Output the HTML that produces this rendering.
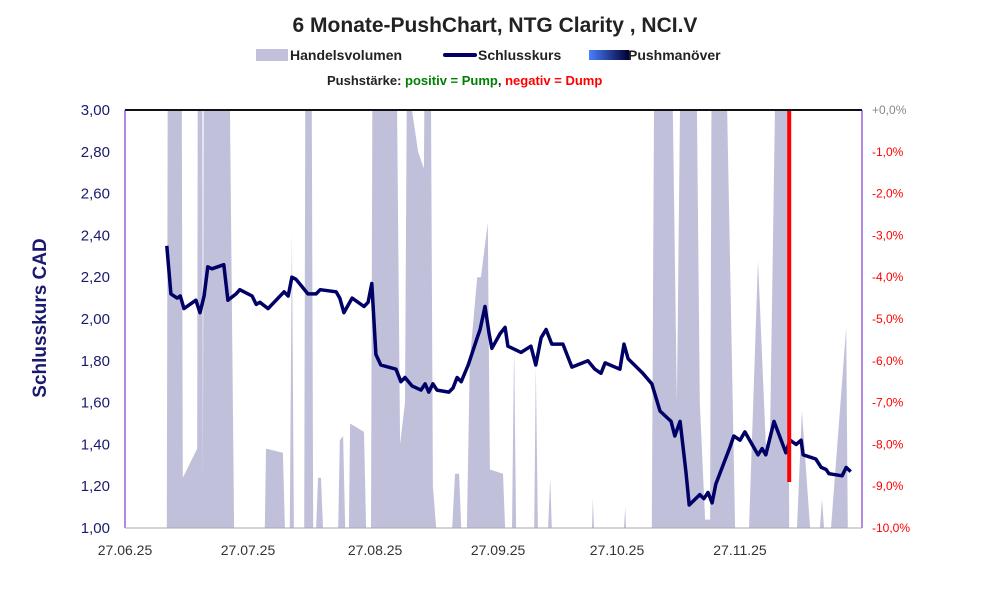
<!DOCTYPE html>
<html><head><meta charset="utf-8"><style>
body{margin:0;background:#fff;width:991px;height:593px;overflow:hidden;font-family:"Liberation Sans",sans-serif}
svg text{font-family:"Liberation Sans",sans-serif}
</style></head><body>
<svg id="chart" width="991" height="593" viewBox="0 0 991 593" xmlns="http://www.w3.org/2000/svg">
<text x="495" y="32" text-anchor="middle" font-size="21" font-weight="bold" fill="#222">6 Monate-PushChart, NTG Clarity , NCI.V</text>
<g font-size="14" font-weight="bold" fill="#222">
<rect x="256" y="49" width="32" height="12" fill="#c0c0db"/>
<text x="290" y="60">Handelsvolumen</text>
<rect x="443" y="53" width="34" height="4" rx="2" fill="#000066"/>
<text x="478" y="60">Schlusskurs</text>
<defs><linearGradient id="pg" x1="0" x2="1"><stop offset="0" stop-color="#4a7fff"/><stop offset="1" stop-color="#000033"/></linearGradient></defs>
<rect x="589" y="50" width="40" height="10" fill="url(#pg)"/>
<text x="628" y="60">Pushmanöver</text>
<text x="327" y="85" font-size="13">Pushstärke:  <tspan fill="#008000">positiv = Pump</tspan><tspan fill="#222">, </tspan> <tspan fill="#ff0000">negativ = Dump</tspan></text>
</g>
<defs><clipPath id="plotclip"><rect x="125" y="110" width="737" height="418"/></clipPath></defs>
<g id="vol" clip-path="url(#plotclip)"></g>
<g id="marks"></g>
<line x1="125" y1="110" x2="862" y2="110" stroke="#111" stroke-width="2"/>
<line x1="125" y1="110" x2="125" y2="528" stroke="#6a0dcc" stroke-width="1"/>
<line x1="862" y1="110" x2="862" y2="528" stroke="#6a0dcc" stroke-width="1"/>
<line x1="125" y1="528" x2="862" y2="528" stroke="#aaa" stroke-width="1"/>
<g id="axes"></g>
<text transform="translate(46,318) rotate(-90)" text-anchor="middle" font-size="19" font-weight="bold" fill="#1a1a6e">Schlusskurs CAD</text>
</svg>
<script>
const priceDays=[10.2,11.2,12.7,13.5,14.4,17.3,18.3,19.3,20.2,21.2,24.1,25.1,27.1,28,31,32,32.9,34.9,38.8,39.8,40.7,41.7,44.6,46.6,47.6,51.5,52.4,53.4,55.4,58.3,59.3,60.2,61.2,62.4,66.1,67.3,68.3,70,72.2,73.2,74.1,75.1,76.1,79,80,81,82,83.7,85.9,86.6,87.8,88.8,89.5,91.5,92.7,93.4,96.6,99,100.2,101.5,102.7,104.1,106.8,109,112.9,114.6,116.1,117.1,120.7,121.7,122.7,126.3,128.5,130.5,133.2,134.1,135.4,136.8,137.6,140.2,141.2,142.2,143.2,144.1,147.6,148.5,150,151.2,154.4,155.4,156.3,158.3,161.2,162.2,163.7,164.9,165.4,168.5,169.8,171,171.7,174.9,175.9,177];
const priceValues=[2.35,2.12,2.10,2.11,2.05,2.09,2.03,2.11,2.25,2.24,2.26,2.09,2.12,2.14,2.11,2.07,2.08,2.05,2.13,2.11,2.20,2.19,2.12,2.12,2.14,2.13,2.10,2.03,2.10,2.06,2.08,2.17,1.83,1.78,1.76,1.70,1.72,1.68,1.66,1.69,1.65,1.69,1.66,1.65,1.67,1.72,1.70,1.78,1.91,1.95,2.06,1.93,1.86,1.93,1.96,1.87,1.84,1.87,1.78,1.91,1.95,1.88,1.88,1.77,1.80,1.76,1.74,1.79,1.76,1.88,1.81,1.74,1.69,1.56,1.51,1.44,1.51,1.27,1.11,1.16,1.14,1.17,1.12,1.21,1.39,1.44,1.42,1.46,1.35,1.38,1.35,1.51,1.36,1.42,1.40,1.42,1.35,1.33,1.29,1.28,1.26,1.25,1.29,1.27];
const volDays=[10.2,10.5,13.7,14.1,17.6,17.8,18.8,19.0,19.3,25.1,26.6,34.1,34.4,38.5,39.0,40.2,40.7,41.2,43.7,44.1,45.4,45.9,46.6,47.1,47.8,48.3,52.0,52.4,53.2,53.7,54.6,54.9,58.3,58.8,60.0,60.5,65.9,67.1,68.3,69.0,70.0,71.5,72.9,73.4,74.4,75.1,75.9,79.8,80.5,81.5,82.0,83.4,84.1,85.9,86.8,88.5,89.0,92.2,92.7,94.4,94.9,95.4,99.8,100.2,100.7,103.2,103.7,104.1,113.9,114.1,114.4,121.7,122.0,122.2,128.5,129.3,132.9,134.6,135.9,139.0,140.2,141.5,142.7,143.2,145.9,148.8,152.2,154.4,156.3,157.3,159.3,161.5,162.0,163.9,165.1,167.1,169.5,170.0,170.5,172.2,175.9,176.3,177.1];
const volValues=[0,150,150,12,19,150,150,10,150,150,0,0,19,18,0,0,71,0,0,150,150,0,0,12,12,0,0,21,22,0,0,25,23,0,0,150,150,20,30,150,100,90,86,150,150,10,0,0,13,13,0,0,40,60,60,73,14,13,0,0,44,0,0,39,0,0,12,0,0,7,0,0,5,0,0,150,150,30,150,150,30,2,2,150,150,0,0,64,20,20,150,150,0,0,28,0,0,7,0,0,48,0,0];
const pushDays=[162];
const pushValues=[-8.9];
const leftTicks=["1,00","1,20","1,40","1,60","1,80","2,00","2,20","2,40","2,60","2,80","3,00"];
const rightTicks=["-10,0%","-9,0%","-8,0%","-7,0%","-6,0%","-5,0%","-4,0%","-3,0%","-2,0%","-1,0%","+0,0%"];
const xTickDays=[0,30,61,91,120,150];
const xTickLabels=["27.06.25","27.07.25","27.08.25","27.09.25","27.10.25","27.11.25"];

const NS="http://www.w3.org/2000/svg";
const X0=125,X1=862,Y0=528,Y1=110;
const xs=d=>X0+d*4.1;
const yP=v=>Y0-(v-1)/2*(Y0-Y1);
const yV=v=>Y0-v/100*(Y0-Y1);
const yR=v=>Y1+(v/-10)*(Y0-Y1);
function mk(tag,attrs,parent){const e=document.createElementNS(NS,tag);for(const k in attrs)e.setAttribute(k,attrs[k]);parent.appendChild(e);return e;}
const vol=document.getElementById('vol'),marks=document.getElementById('marks'),axes=document.getElementById('axes');
let d="M"+xs(volDays[0])+","+Y0;
volDays.forEach((t,i)=>{d+=" L"+xs(t).toFixed(1)+","+yV(volValues[i]).toFixed(1);});
d+=" L"+xs(volDays[volDays.length-1])+","+Y0+" Z";
const va=mk('path',{d:d,fill:'#c0c0db'},vol);


const pl=mk('polyline',{points:priceDays.map((t,i)=>xs(t).toFixed(1)+","+yP(priceValues[i]).toFixed(1)).join(" "),fill:'none',stroke:'#000066','stroke-width':3.5,'stroke-linejoin':'round'},marks);


pushDays.forEach((t,i)=>{const r=mk('line',{x1:xs(t),x2:xs(t),y1:Y1,y2:yR(pushValues[i]),stroke:'#ff0000','stroke-width':4},marks);

});
leftTicks.forEach((s,i)=>{const t=mk('text',{x:110,y:Y0-i*(Y0-Y1)/10+5,'text-anchor':'end','font-size':15,fill:'#1a1a6e'},axes);t.textContent=s;

});
rightTicks.forEach((s,i)=>{const t=mk('text',{x:872,y:Y0-i*(Y0-Y1)/10+4,'font-size':12,fill:i==10?'#888':'#ff0000'},axes);t.textContent=s;

});
xTickDays.forEach((t0,i)=>{const t=mk('text',{x:xs(t0),y:555,'text-anchor':'middle','font-size':14,fill:'#333'},axes);t.textContent=xTickLabels[i];

});
</script>
</body></html>
